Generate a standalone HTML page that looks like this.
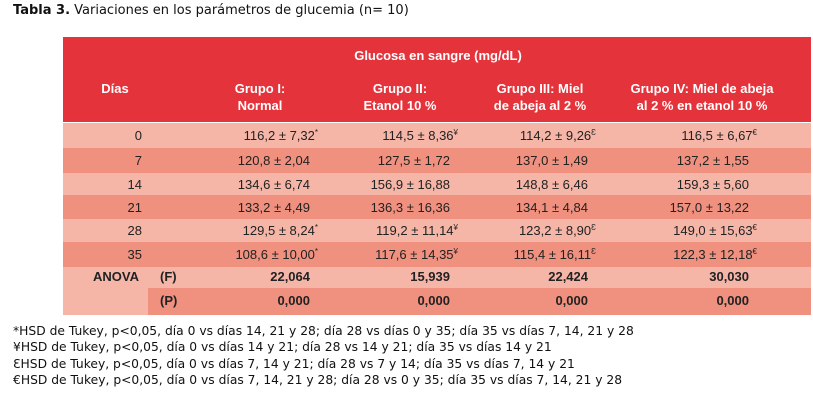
<!DOCTYPE html>
<html><head><meta charset="utf-8"><style>
body{margin:0;width:813px;height:404px;background:#fff;position:relative;overflow:hidden;font-family:"Liberation Sans",Arial,sans-serif;}
.a{position:absolute;}
.t{font-family:"DejaVu Sans",sans-serif;font-size:12.3px;color:#111;white-space:nowrap;}
.h{color:#fff;font-weight:bold;font-size:13px;text-align:center;line-height:16.5px;}
.c{font-size:13px;color:#222;white-space:nowrap;}
.r{text-align:right;}
sup{font-size:8px;vertical-align:5px;line-height:0;}
</style></head><body>
<div class="a t" style="left:13px;top:3px;font-size:13px;"><b>Tabla 3.</b> Variaciones en los parámetros de glucemia (n= 10)</div>
<div class="a" style="left:63px;top:37px;width:748px;height:85px;background:#e5333b;"></div>
<div class="a h" style="left:263px;top:48px;width:350px;">Glucosa en sangre (mg/dL)</div>
<div class="a h" style="left:75px;top:81px;width:80px;">Días</div>
<div class="a h" style="left:200px;top:81px;width:120px;">Grupo I:<br>Normal</div>
<div class="a h" style="left:340px;top:81px;width:120px;">Grupo II:<br>Etanol 10 %</div>
<div class="a h" style="left:470px;top:81px;width:140px;">Grupo III: Miel<br>de abeja al 2 %</div>
<div class="a h" style="left:612px;top:81px;width:180px;">Grupo IV: Miel de abeja<br>al 2 % en etanol 10 %</div>
<div id="body"></div>
<div class="a" style="left:63px;top:267px;width:85px;height:48px;background:#f5b6a8;"></div>
<div class="a" style="left:148px;top:267px;width:663px;height:21px;background:#f5b6a8;"></div>
<div class="a" style="left:148px;top:288px;width:663px;height:27px;background:#f0907f;"></div>
<div class="a c r" style="left:63px;top:269px;width:76px;font-weight:bold;">ANOVA</div>
<div class="a c" style="left:160px;top:269px;font-weight:bold;">(F)</div>
<div class="a c" style="left:160px;top:293px;font-weight:bold;">(P)</div>
<div class="a c r" style="left:210px;top:269px;width:100px;font-weight:bold;">22,064</div>
<div class="a c r" style="left:350px;top:269px;width:100px;font-weight:bold;">15,939</div>
<div class="a c r" style="left:488px;top:269px;width:100px;font-weight:bold;">22,424</div>
<div class="a c r" style="left:649px;top:269px;width:100px;font-weight:bold;">30,030</div>
<div class="a c r" style="left:210px;top:293px;width:100px;font-weight:bold;">0,000</div>
<div class="a c r" style="left:350px;top:293px;width:100px;font-weight:bold;">0,000</div>
<div class="a c r" style="left:488px;top:293px;width:100px;font-weight:bold;">0,000</div>
<div class="a c r" style="left:649px;top:293px;width:100px;font-weight:bold;">0,000</div>
<div class="a t" style="left:13px;top:324px;">*HSD de Tukey, p&lt;0,05, día 0 vs días 14, 21 y 28; día 28 vs días 0 y 35; día 35 vs días 7, 14, 21 y 28</div>
<div class="a t" style="left:13px;top:340px;">¥HSD de Tukey, p&lt;0,05, día 0 vs días 14 y 21; día 28 vs 14 y 21; día 35 vs días 14 y 21</div>
<div class="a t" style="left:13px;top:357px;">ƐHSD de Tukey, p&lt;0,05, día 0 vs días 7, 14 y 21; día 28 vs 7 y 14; día 35 vs días 7, 14 y 21</div>
<div class="a t" style="left:13px;top:373px;">€HSD de Tukey, p&lt;0,05, día 0 vs días 7, 14, 21 y 28; día 28 vs 0 y 35; día 35 vs días 7, 14, 21 y 28</div>
<script>
const days=["0","7","14","21","28","35"];
const g1=["116,2 ± 7,32<sup>*</sup>","120,8 ± 2,04","134,6 ± 6,74","133,2 ± 4,49","129,5 ± 8,24<sup>*</sup>","108,6 ± 10,00<sup>*</sup>"];
const g2=["114,5 ± 8,36<sup>¥</sup>","127,5 ± 1,72","156,9 ± 16,88","136,3 ± 16,36","119,2 ± 11,14<sup>¥</sup>","117,6 ± 14,35<sup>¥</sup>"];
const g3=["114,2 ± 9,26<sup>Ɛ</sup>","137,0 ± 1,49","148,8 ± 6,46","134,1 ± 4,84","123,2 ± 8,90<sup>Ɛ</sup>","115,4 ± 16,11<sup>Ɛ</sup>"];
const g4=["116,5 ± 6,67<sup>€</sup>","137,2 ± 1,55","159,3 ± 5,60","157,0 ± 13,22","149,0 ± 15,63<sup>€</sup>","122,3 ± 12,18<sup>€</sup>"];
const tops=[123,148,173,195,219,242,267];
const body=document.getElementById('body');
const cols=[[g1,210],[g2,350],[g3,488],[g4,649]];
days.forEach((d,i)=>{
  const row=document.createElement('div');
  
  
  row.className='a';
  const h=tops[i+1]-tops[i];
  row.style.cssText=`left:63px;top:${tops[i]}px;width:748px;height:${h}px;background:${i%2?'#f0907f':'#f5b6a8'};`;
  body.appendChild(row);
  const ty=tops[i]+(h-15)/2;
  const dc=document.createElement('div');
  
  
  dc.className='a c r';
  dc.style.cssText=`left:63px;top:${ty}px;width:79px;`;
  dc.textContent=d;
  body.appendChild(dc);
  cols.forEach(([arr,x],j)=>{
    const v=document.createElement('div');
    
    
    v.className='a c r';
    const hasSup=arr[i].indexOf('<sup>')>=0;
    v.style.cssText=`left:${x-60+(hasSup?8:0)}px;top:${ty}px;width:160px;`;
    v.innerHTML=arr[i];
    body.appendChild(v);
  });
});
</script>
</body></html>
